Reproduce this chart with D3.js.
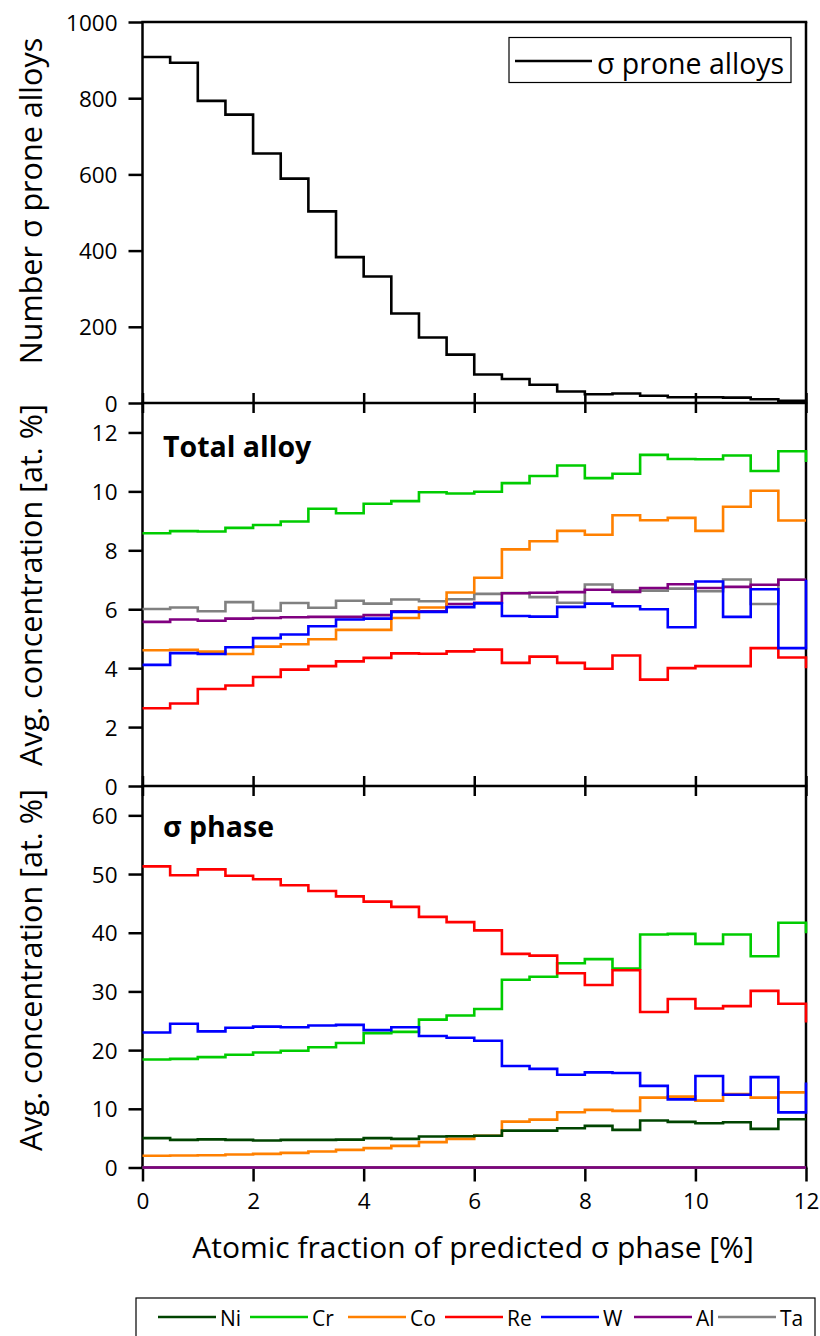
<!DOCTYPE html>
<html>
<head>
<meta charset="utf-8">
<script src="https://cdn.jsdelivr.net/npm/d3@7"></script>
<style>
  html, body { margin: 0; padding: 0; background: #fff; }
  svg { display: block; }
  text { font-family: "Open Sans", Lato, "DejaVu Sans", sans-serif; fill: #000; }
</style>
</head>
<body>
<svg id="chart" width="820" height="1336"></svg>
<script>
// ---------- DATA ----------
const binEdges = [0,0.5,1,1.5,2,2.5,3,3.5,4,4.5,5,5.5,6,6.5,7,7.5,8,8.5,9,9.5,10,10.5,11,11.5,12];
const xTicks = [0,2,4,6,8,10,12];

// Top panel: number of sigma prone alloys per bin (last value = closing point at x=12)
const proneCount = [908,893,793,757,655,589,503,383,332,235,172,127,75,63,48,30,23,25,19,15,15,14,10,6,6];
const countTicks = [0,200,400,600,800,1000];

// Middle panel: total alloy average concentration [at.%]
const totalCr = [8.58,8.65,8.64,8.76,8.86,8.98,9.41,9.26,9.58,9.67,9.97,9.93,9.99,10.28,10.52,10.88,10.45,10.60,11.24,11.10,11.09,11.22,10.69,11.36,11.0];
const totalCo = [4.61,4.62,4.56,4.48,4.73,4.81,4.98,5.30,5.30,5.70,6.06,6.57,7.07,8.03,8.31,8.66,8.53,9.19,9.02,9.10,8.66,9.48,10.02,9.01,9.01];
const totalRe = [2.64,2.80,3.29,3.41,3.70,3.95,4.07,4.23,4.35,4.50,4.49,4.57,4.63,4.18,4.39,4.18,3.98,4.43,3.61,4.00,4.07,4.07,4.68,4.36,4.0];
const totalW  = [4.11,4.51,4.48,4.71,5.02,5.14,5.42,5.65,5.68,5.91,5.91,6.07,6.20,5.77,5.75,6.08,6.19,6.10,6.00,5.39,6.94,5.74,6.68,4.68,7.0];
const totalAl = [5.57,5.65,5.61,5.68,5.70,5.73,5.74,5.74,5.80,5.93,5.93,6.18,6.22,6.54,6.56,6.58,6.66,6.59,6.72,6.85,6.72,6.76,6.83,7.00,7.0];
const totalTa = [6.01,6.06,5.93,6.24,5.95,6.21,6.05,6.29,6.19,6.33,6.27,6.34,6.52,6.55,6.41,6.22,6.84,6.64,6.63,6.70,6.61,7.01,6.18,7.0,7.0];
const totalTicks = [0,2,4,6,8,10,12];

// Bottom panel: sigma phase average concentration [at.%]
const sigNi = [5.0,4.71,4.8,4.71,4.6,4.71,4.71,4.75,5.0,4.88,5.27,5.33,5.42,6.29,6.29,6.7,7.09,6.41,8.0,7.77,7.55,7.72,6.58,8.23,8.23];
const sigCr = [18.4,18.5,18.8,19.2,19.6,19.9,20.5,21.2,22.9,23.1,25.2,25.9,27.0,32.0,32.5,34.8,35.5,33.9,39.7,39.8,38.1,39.7,36.0,41.7,39.9];
const sigCo = [1.99,2.05,2.1,2.21,2.33,2.5,2.72,3.0,3.3,3.69,4.32,4.88,5.4,7.82,8.16,9.42,9.81,9.64,11.9,12.07,11.4,12.5,11.9,12.8,12.8];
const sigRe = [51.3,49.8,50.8,49.7,49.1,48.1,47.1,46.2,45.3,44.4,42.7,41.8,40.4,36.4,36.1,33.1,31.1,33.6,26.5,28.7,27.1,27.5,30.1,27.9,24.7];
const sigW  = [23.0,24.5,23.2,23.8,24.0,23.9,24.2,24.3,23.4,23.9,22.4,22.1,21.6,17.3,16.8,15.8,16.2,16.1,13.9,11.6,15.6,12.4,15.4,9.4,14.5];
const sigAl = [0,0,0,0,0,0,0,0,0,0,0,0,0,0,0,0,0,0,0,0,0,0,0,0,0];
const sigTa = [0,0,0,0,0,0,0,0,0,0,0,0,0,0,0,0,0,0,0,0,0,0,0,0,0];
const sigTicks = [0,10,20,30,40,50,60];

const elements = ["Ni","Cr","Co","Re","W","Al","Ta"];
const elementColors = {Ni:"#004400", Cr:"#00cc00", Co:"#ff8000", Re:"#ff0000", W:"#0000ff", Al:"#800080", Ta:"#808080"};

// ---------- LAYOUT ----------
const svg = d3.select("#chart");
const X0 = 142.5, X1 = 806;
const x = d3.scaleLinear().domain([0,12]).range([X0, X1]);
const yTop = d3.scaleLinear().domain([0,1000]).range([403,22]);
const yMid = d3.scaleLinear().domain([0,13]).range([786,403]);
const yBot = d3.scaleLinear().domain([0,65]).range([1167.5,786]);

const FONT_TICK = 22.5;
const FONT = "'Open Sans', Lato, sans-serif";

function stepLine(yScale){
  return d3.line().curve(d3.curveStepAfter)
    .x((d,i) => x(binEdges[i]))
    .y(d => yScale(d));
}

function styleAxis(g){
  g.select(".domain").remove();
  g.selectAll(".tick line").attr("stroke","#000").attr("stroke-width",2.5);
  g.selectAll(".tick text").style("font-size", FONT_TICK+"px").style("font-family",FONT).attr("fill","#000");
}

// Y axes
function yAxis(scale, ticks){
  const g = svg.append("g").attr("transform",`translate(${X0},0)`)
    .call(d3.axisLeft(scale).tickValues(ticks).tickFormat(d3.format("d")).tickSize(14).tickPadding(11));
  styleAxis(g);
  g.selectAll(".tick text").attr("dy","0.36em");
}
yAxis(yTop, countTicks);
yAxis(yMid, totalTicks);
yAxis(yBot, sigTicks);

// inner tick marks at panel boundaries
function innerTicks(yPos, up, down){
  if (up){
    const g = svg.append("g").attr("transform",`translate(0,${yPos})`)
      .call(d3.axisBottom(x).tickValues(xTicks).tickSize(-up).tickFormat(""));
    styleAxis(g);
  }
  if (down){
    const g = svg.append("g").attr("transform",`translate(0,${yPos})`)
      .call(d3.axisTop(x).tickValues(xTicks).tickSize(-down).tickFormat(""));
    styleAxis(g);
  }
}
innerTicks(yTop(0), 10, 10);
innerTicks(yMid(0), 10, 10);

// bottom x axis
const gx = svg.append("g").attr("transform",`translate(0,${yBot(0)})`)
  .call(d3.axisBottom(x).tickValues(xTicks).tickFormat(d3.format("d")).tickSize(14).tickPadding(12));
styleAxis(gx);

// frames
const frame = svg.append("g").attr("fill","none").attr("stroke","#000").attr("stroke-width",2.5);
frame.append("line").attr("x1",X0).attr("x2",X0).attr("y1",yTop(1000)).attr("y2",yBot(0));
frame.append("line").attr("x1",X1).attr("x2",X1).attr("y1",yTop(1000)).attr("y2",yBot(0));
[yTop(1000), yTop(0), yMid(0), yBot(0)].forEach(yy => {
  frame.append("line").attr("x1",X0-1.25).attr("x2",X1+1.25).attr("y1",yy).attr("y2",yy);
});

// ---------- SERIES ----------
svg.append("path").datum(proneCount)
  .attr("d", stepLine(yTop)).attr("fill","none").attr("stroke","#000").attr("stroke-width",2.6);

const totalSeries = {Ta: totalTa, Al: totalAl, Cr: totalCr, Co: totalCo, Re: totalRe, W: totalW};
["Ta","Al","Cr","Co","Re","W"].forEach(k => {
  svg.append("path").datum(totalSeries[k])
    .attr("d", stepLine(yMid)).attr("fill","none")
    .attr("stroke", elementColors[k]).attr("stroke-width",2.6);
});

const sigSeries = {Ni: sigNi, Cr: sigCr, Co: sigCo, Re: sigRe, W: sigW, Al: sigAl, Ta: sigTa};
["Ta","Co","Ni","Cr","Re","W","Al"].forEach(k => {
  svg.append("path").datum(sigSeries[k])
    .attr("d", stepLine(yBot)).attr("fill","none")
    .attr("stroke", elementColors[k]).attr("stroke-width",2.6);
});

// ---------- TEXT ----------
svg.append("text").attr("x",163).attr("y",457).style("font-size","28.5px").style("font-weight","bold").text("Total alloy");
svg.append("text").attr("x",163).attr("y",837).style("font-size","28.5px").style("font-weight","bold").text("σ phase");

function yTitle(txt, cy){
  svg.append("text").attr("transform",`translate(42,${cy}) rotate(-90)`)
    .attr("text-anchor","middle").style("font-size","30.5px").text(txt);
}
yTitle("Number σ prone alloys", 201);
yTitle("Avg. concentration [at. %]", 585);
yTitle("Avg. concentration [at. %]", 970);

svg.append("text").attr("x",473).attr("y",1258).attr("text-anchor","middle")
  .style("font-size","30px").text("Atomic fraction of predicted σ phase [%]");

// top legend
svg.append("rect").attr("x",509).attr("y",37.5).attr("width",282).attr("height",45)
  .attr("fill","#fff").attr("stroke","#000").attr("stroke-width",1.2);
svg.append("line").attr("x1",515).attr("x2",592).attr("y1",61).attr("y2",61)
  .attr("stroke","#000").attr("stroke-width",2.6);
svg.append("text").attr("x",597).attr("y",74).style("font-size","28.5px").text("σ prone alloys");

// bottom legend
svg.append("rect").attr("x",136).attr("y",1298).attr("width",679).attr("height",50)
  .attr("fill","#fff").attr("stroke","#000").attr("stroke-width",1.2);
const legendLineX = {Ni:158, Cr:250, Co:348, Re:445, W:541, Al:634, Ta:718};
const legendLen = 58;
elements.forEach(k => {
  const lx = legendLineX[k];
  svg.append("line").attr("x1",lx).attr("x2",lx+legendLen).attr("y1",1317).attr("y2",1317)
    .attr("stroke",elementColors[k]).attr("stroke-width",2.6);
  svg.append("text").attr("x",lx+legendLen+4).attr("y",1326).style("font-size","21px").text(k);
});
</script>
</body>
</html>
